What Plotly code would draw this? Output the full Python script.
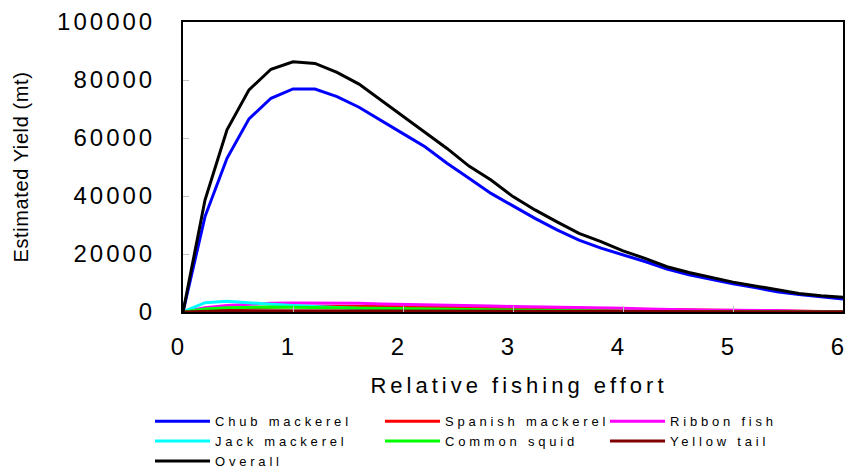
import plotly.graph_objects as go

effort = [round(0.2 * i, 1) for i in range(31)]

chub_mackerel = [0, 32900, 53000, 66600, 73700, 76900, 76900, 74300, 70600, 65900,
                 61500, 57000, 51300, 46100, 40900, 36600, 32300, 28300, 24800, 22000,
                 19800, 17400, 14800, 12800, 11300, 9700, 8400, 7000, 6000, 5300, 4500]
spanish_mackerel = [0, 600, 1100, 1400, 1700, 1900, 2000, 2000, 2000, 2000,
                    1900, 1800, 1700, 1600, 1500, 1400, 1300, 1200, 1100, 1000,
                    900, 800, 700, 600, 500, 400, 300, 300, 200, 100, 100]
ribbon_fish = [0, 1500, 2200, 2700, 3000, 3100, 3100, 3100, 3000, 2800,
               2700, 2500, 2300, 2200, 2100, 1900, 1800, 1700, 1500, 1400,
               1300, 1000, 800, 700, 600, 600, 600, 500, 300, 100, 0]
jack_mackerel = [0, 3200, 3700, 3300, 2700, 2200, 1800, 1500, 1200, 1000,
                 800, 700, 600, 500, 400, 350, 300, 250, 200, 150,
                 100, 100, 50, 50, 0, 0, 0, 0, 0, 0, 0]
common_squid = [0, 1000, 1500, 1700, 1700, 1600, 1500, 1400, 1200, 1100,
                1000, 900, 800, 700, 600, 500, 450, 400, 350, 300,
                250, 200, 150, 150, 100, 100, 100, 50, 50, 0, 0]
yellow_tail = [0, 300, 400, 450, 450, 450, 450, 450, 400, 400,
               400, 350, 350, 300, 300, 300, 250, 250, 200, 200,
               200, 150, 150, 150, 100, 100, 100, 100, 100, 50, 50]
overall = [0, 38600, 62800, 76600, 83700, 86300, 85700, 82600, 78600, 73100,
           67500, 62200, 56400, 50300, 45500, 39800, 35200, 31100, 27100, 24300,
           21100, 18500, 15600, 13600, 12000, 10300, 9000, 7600, 6400, 5600, 5100]

# name, values, colour, legend column
series = [
    ("Chub mackerel", chub_mackerel, "#0000FF", "legend"),
    ("Spanish mackerel", spanish_mackerel, "#FF0000", "legend2"),
    ("Ribbon fish", ribbon_fish, "#FF00FF", "legend3"),
    ("Jack mackerel", jack_mackerel, "#00FFFF", "legend"),
    ("Common squid", common_squid, "#00FF00", "legend2"),
    ("Yellow tail", yellow_tail, "#800000", "legend3"),
    ("Overall", overall, "#000000", "legend"),
]

fig = go.Figure()
for name, vals, color, leg in series:
    fig.add_trace(go.Scatter(x=effort, y=vals, name=name, mode="lines",
                             line=dict(color=color, width=3), legend=leg))

FONT = "Liberation Sans, Arial, sans-serif"
W, H = 846, 471
L, R, T, B = 183, 3, 22, 159
PW = W - L - R


def legend_at(px_left):
    return dict(
        orientation="v", x=(px_left - L) / PW, xanchor="left",
        y=-0.325, yanchor="top", font=dict(size=13, family=FONT),
        bgcolor="rgba(0,0,0,0)", itemwidth=55, tracegroupgap=0,
    )


fig.update_layout(
    width=W, height=H,
    margin=dict(l=L, r=R, t=T, b=B, autoexpand=False),
    paper_bgcolor="white", plot_bgcolor="white",
    font=dict(family=FONT, color="black"),
    showlegend=True,
    legend=legend_at(150),
    legend2=legend_at(380),
    legend3=legend_at(605),
    xaxis=dict(
        range=[0, 6], tickvals=[0, 1, 2, 3, 4, 5, 6],
        showgrid=False, zeroline=False, automargin=False,
        showline=True, linecolor="black", linewidth=2, mirror=True,
        ticks="inside", ticklen=6, tickcolor="#c0c0c0", tickwidth=1,
        tickfont=dict(size=24), ticklabelstandoff=12, ticklabelshift=-4,
        ticklabeloverflow="allow",
        title=dict(text="Relative fishing effort", font=dict(size=22), standoff=19),
    ),
    yaxis=dict(
        range=[0, 100000], tickvals=[0, 20000, 40000, 60000, 80000, 100000],
        tickformat="d",
        showgrid=False, zeroline=False, automargin=False,
        showline=True, linecolor="black", linewidth=2, mirror=True,
        ticks="inside", ticklen=6, tickcolor="#c0c0c0", tickwidth=1,
        tickfont=dict(size=24), ticklabelstandoff=21, ticklabeloverflow="allow",
        title=dict(text="Estimated Yield (mt)", font=dict(size=20), standoff=41),
    ),
)

post = """
document.body.style.margin = '0';
var st = document.createElement('style');
st.textContent = [
  '.xtick text, .ytick text { letter-spacing: 3px; }',
  '.g-xtitle text { letter-spacing: 4px; transform: translateX(6px); }',
  '.g-ytitle text { letter-spacing: 0.6px; }',
  '.legendtext, .legend2text, .legend3text { letter-spacing: 3.8px; }',
  '.infolayer .legend, .infolayer .legend *, .infolayer .legend2, .infolayer .legend2 *, .infolayer .legend3, .infolayer .legend3 * { clip-path: none !important; }'
].join('\\n');
document.head.appendChild(st);
"""
fig.write_html("out.html", post_script=post, config={"displayModeBar": False})
